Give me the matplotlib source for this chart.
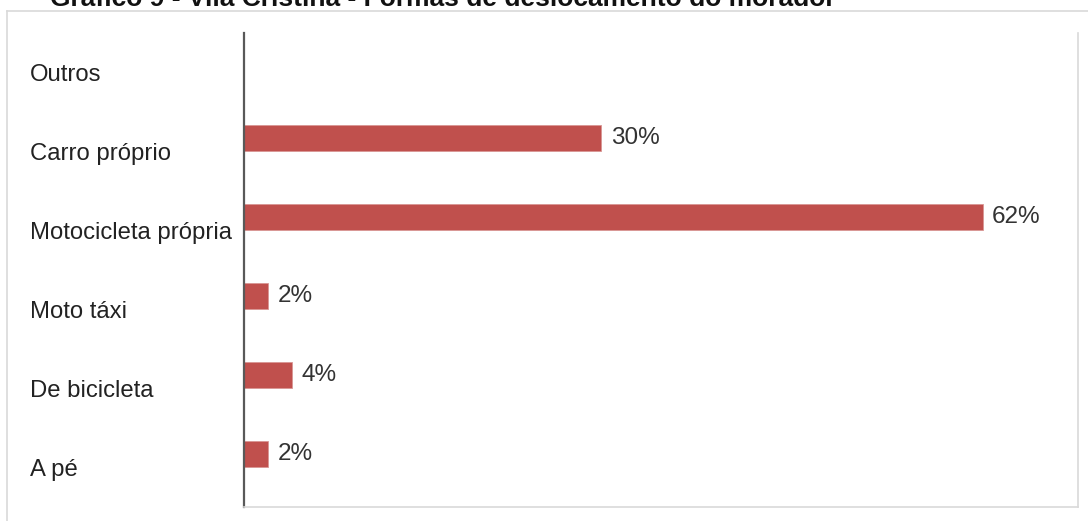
import matplotlib
matplotlib.use("Agg")
import matplotlib.pyplot as plt
from matplotlib.lines import Line2D

plt.rcParams['font.family'] = ['Liberation Sans', 'DejaVu Sans']

# data, bottom to top as drawn
categorias = ['A pé', 'De bicicleta', 'Moto táxi', 'Motocicleta própria', 'Carro próprio', 'Outros']
percentuais = [2, 4, 2, 62, 30, 0]
titulo = 'Gráfico 9 - Vila Cristina - Formas de deslocamento do morador'

cor_barra = '#C0504D'
cinza_claro = '#D9D9D9'

fig = plt.figure(figsize=(10.88, 5.21), dpi=100)
ax = fig.add_axes([244 / 1088, 1 - 507 / 521, (1078 - 244) / 1088, (507 - 33) / 521])

pos = list(range(len(categorias)))
ax.barh([p + 0.17 for p in pos], percentuais, height=0.33, color=cor_barra,
        edgecolor='#D99694', linewidth=0.6)

for p, v in zip(pos, percentuais):
    if v > 0:
        ax.text(v + 0.8, p + 0.17, f'{v}%', va='center', ha='left',
                fontsize=17.5, color='#333333')

ax.set_xlim(0, 70)
ax.set_ylim(-0.5, len(categorias) - 0.5)
ax.set_xticks([])
ax.set_yticks(pos)
ax.set_yticklabels(categorias, ha='left', fontsize=17.2, color='#222222')
ax.tick_params(axis='y', length=0, pad=154)

ax.spines['top'].set_visible(False)
ax.spines['left'].set_color('#595959')
ax.spines['left'].set_linewidth(1.6)
ax.spines['right'].set_color(cinza_claro)
ax.spines['right'].set_linewidth(1.2)
ax.spines['bottom'].set_color(cinza_claro)
ax.spines['bottom'].set_linewidth(1.2)

# outer chart border (left and top edges visible)
fig.add_artist(Line2D([7 / 1088, 7 / 1088], [0, 1 - 11 / 521],
                      transform=fig.transFigure, color=cinza_claro, linewidth=1.2))
fig.add_artist(Line2D([7 / 1088, 1], [1 - 11 / 521, 1 - 11 / 521],
                      transform=fig.transFigure, color=cinza_claro, linewidth=1.2))

# title, cut off at the top edge as in the source image
fig.text(50 / 1088, 1 - 6 / 521, titulo, fontsize=19, fontweight='bold',
         ha='left', va='baseline', color='#111111')

fig.savefig('out.png', dpi=100)
